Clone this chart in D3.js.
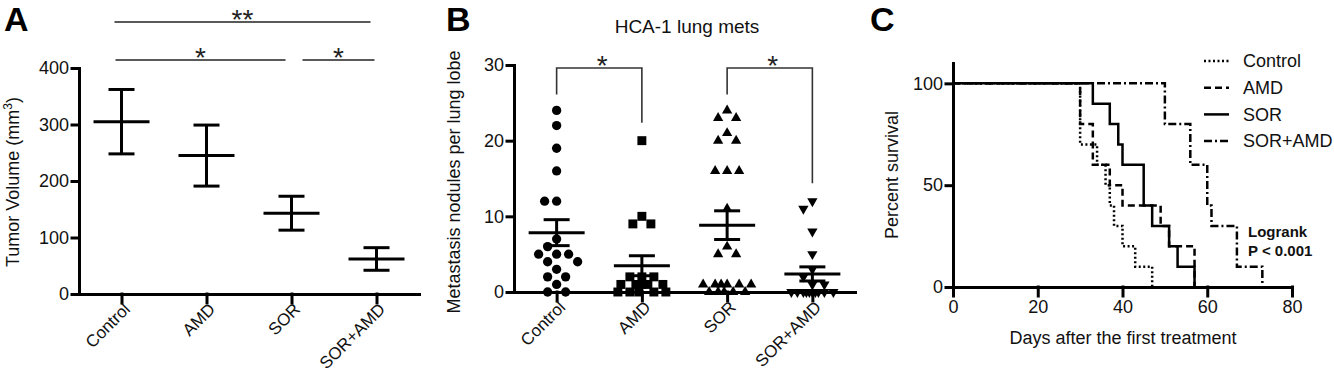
<!DOCTYPE html>
<html>
<head>
<meta charset="utf-8">
<script src="https://cdn.jsdelivr.net/npm/d3@7"></script>
<style>
  body { margin: 0; background: #fff; }
  svg { display: block; }
</style>
</head>
<body>
<script>
// ---- data ----
const groups = ["Control", "AMD", "SOR", "SOR+AMD"];

// A: tumor volume, mean and SEM (mm3)
const tumorMean = [305, 245, 143, 62];
const tumorSem = [57, 54, 30, 20];
const tumorTicks = [0, 100, 200, 300, 400];

// B: lung metastasis nodules per lobe, one value per mouse
const nodulesControl = [24, 22, 19, 16, 12, 12, 7, 6, 5, 5, 5, 4, 4, 3, 2, 2, 1, 0, 0];
const nodulesAMD = [20, 10, 9, 9, 2, 2, 2, 1, 1, 1, 1, 1, 0, 0, 0, 0, 0];
const nodulesSOR = [24, 23, 23, 21, 20, 20, 16, 16, 16, 11, 6, 5, 5, 1, 1, 1, 1, 1, 1, 0, 0, 0, 0, 0];
const nodulesSORAMD = [12, 11, 8, 5, 3, 2, 1, 1, 0, 0, 0, 0, 0, 0, 0, 0, 0, 0];
const noduleTicks = [0, 10, 20, 30];

// C: Kaplan-Meier steps (day, percent surviving)
const survControlDays = [0, 30, 34, 36, 37, 38, 40, 43, 47];
const survControlPct = [100, 70, 60, 50, 40, 30, 20, 10, 0];
const survAMDDays = [0, 30, 33, 37, 40, 49, 51, 57];
const survAMDPct = [100, 80, 60, 50, 40, 30, 20, 0];
const survSORDays = [0, 33, 37, 39, 40, 45, 47, 51, 53, 57];
const survSORPct = [100, 90, 80, 70, 60, 40, 30, 20, 10, 0];
const survSORAMDDays = [0, 50, 56, 60, 61, 67, 73];
const survSORAMDPct = [100, 80, 60, 40, 30, 10, 0];
const dayTicks = [0, 20, 40, 60, 80];
const survTicks = [0, 50, 100];

// ---- drawing ----
const W = 1334, H = 373;
const font = "'Liberation Sans', Arial, Helvetica, sans-serif";

const svg = d3.select("body").append("svg")
    .attr("width", W)
    .attr("height", H)
    .style("font-family", font);

function styleAxis(g, fontSize) {
    g.attr("font-family", font).attr("font-size", fontSize);
    g.selectAll("path.domain, .tick line")
        .attr("stroke", "#000")
        .style("stroke-width", "3px")
        .attr("stroke-linecap", "square");
    g.selectAll(".tick text").attr("fill", "#111");
}

function rotateLabels(g) {
    g.selectAll(".tick text")
        .attr("font-size", 17)
        .attr("text-anchor", "end")
        .attr("x", 0).attr("y", 0).attr("dy", "0.35em")
        .attr("transform", "translate(5,12) rotate(-45)");
}

function panelLetter(x, y, t) {
    svg.append("text")
        .attr("x", x).attr("y", y)
        .attr("font-size", 34)
        .attr("font-weight", "bold")
        .attr("fill", "#000")
        .text(t);
}

function yLabel(x, y, t) {
    return svg.append("text")
        .attr("transform", `translate(${x},${y}) rotate(-90)`)
        .attr("text-anchor", "middle")
        .attr("font-size", 18)
        .attr("fill", "#111")
        .text(t);
}

// ===== Panel A =====
const xA = d3.scalePoint().domain(groups).range([79, 419]).padding(0.5);
const yA = d3.scaleLinear().domain([0, 400]).range([294, 68]);

panelLetter(4, 31, "A");

const semA = svg.append("g").attr("stroke", "#000").attr("stroke-width", 3);
groups.forEach((g, i) => {
    const cx = xA(g);
    const m = tumorMean[i], s = tumorSem[i];
    semA.append("line").attr("x1", cx - 28).attr("x2", cx + 28).attr("y1", yA(m)).attr("y2", yA(m));
    semA.append("line").attr("x1", cx).attr("x2", cx).attr("y1", yA(m - s)).attr("y2", yA(m + s));
    semA.append("line").attr("x1", cx - 13).attr("x2", cx + 13).attr("y1", yA(m + s)).attr("y2", yA(m + s));
    semA.append("line").attr("x1", cx - 13).attr("x2", cx + 13).attr("y1", yA(m - s)).attr("y2", yA(m - s));
});

svg.append("g").attr("transform", "translate(79,0)")
    .call(d3.axisLeft(yA).tickValues(tumorTicks).tickSize(7).tickSizeOuter(0).tickPadding(3))
    .call(g => styleAxis(g, 18));

svg.append("g").attr("transform", "translate(0,294)")
    .call(d3.axisBottom(xA).tickSize(9).tickSizeOuter(0))
    .call(g => styleAxis(g, 18))
    .call(rotateLabels);

const yl = yLabel(19, 182, "Tumor Volume (mm");
yl.append("tspan").attr("baseline-shift", "super").attr("font-size", 12).text("3");
yl.append("tspan").text(")");

// significance lines for A
const sigA = [
    { a: "Control", b: "SOR+AMD", y: 22, dx1: -7, dx2: -6, label: "**" },
    { a: "Control", b: "SOR", y: 60, dx1: -6, dx2: -6, label: "*" },
    { a: "SOR", b: "SOR+AMD", y: 60, dx1: 11, dx2: -2, label: "*" }
];
sigA.forEach(s => {
    const x1 = xA(s.a) + s.dx1, x2 = xA(s.b) + s.dx2;
    svg.append("line")
        .attr("x1", x1).attr("x2", x2).attr("y1", s.y).attr("y2", s.y)
        .attr("stroke", "#222").attr("stroke-width", 1.4);
    svg.append("text")
        .attr("x", (x1 + x2) / 2).attr("y", s.y + 7)
        .attr("text-anchor", "middle")
        .attr("font-size", 28).attr("fill", "#222")
        .text(s.label);
});

// ===== Panel B =====
const xB = d3.scalePoint().domain(groups).range([514, 855]).padding(0.5);
const yB = d3.scaleLinear().domain([0, 30]).range([292, 65]);
const nodules = [nodulesControl, nodulesAMD, nodulesSOR, nodulesSORAMD];
const shapes = [d3.symbolCircle, d3.symbolSquare, d3.symbolTriangle, d3.symbolTriangle];
const shapeSize = [68, 80, 46, 46];

panelLetter(446, 31, "B");

svg.append("text")
    .attr("x", 687).attr("y", 33)
    .attr("text-anchor", "middle")
    .attr("font-size", 19).attr("fill", "#111")
    .text("HCA-1 lung mets");

// simple beeswarm: nearest free offset, else least-overlapping one
function swarm(values, y, minDist, step, maxHalf) {
    const placed = [];
    values.forEach(v => {
        const py = y(v);
        let best = 0, bestD = -1, found = false;
        for (let k = 0; k * step <= maxHalf && !found; k++) {
            const cands = k === 0 ? [0] : [-k * step, k * step];
            for (const dx of cands) {
                const d = placed.length ? d3.min(placed, p => Math.hypot(p.dx - dx, p.y - py)) : Infinity;
                if (d >= minDist) { best = dx; found = true; break; }
                if (d > bestD) { bestD = d; best = dx; }
            }
        }
        placed.push({ v: v, y: py, dx: best });
    });
    return placed;
}

const ptsB = svg.append("g");
nodules.forEach((vals, i) => {
    const cx = xB(groups[i]);
    const pts = swarm(vals, yB, 11.5, 3, 26);
    const sym = d3.symbol().type(shapes[i]).size(shapeSize[i]);
    ptsB.selectAll(null)
        .data(pts)
        .enter()
        .append("path")
            .attr("d", sym)
            .attr("fill", "#000")
            .attr("transform", d => `translate(${cx + d.dx},${d.y})` + (i === 3 ? " rotate(180)" : ""));

    // mean +/- SEM
    const m = d3.mean(vals), s = d3.deviation(vals) / Math.sqrt(vals.length);
    const g = ptsB.append("g").attr("stroke", "#000").attr("stroke-width", 3);
    g.append("line").attr("x1", cx - 28).attr("x2", cx + 28).attr("y1", yB(m)).attr("y2", yB(m));
    g.append("line").attr("x1", cx).attr("x2", cx).attr("y1", yB(m - s)).attr("y2", yB(m + s));
    g.append("line").attr("x1", cx - 13).attr("x2", cx + 13).attr("y1", yB(m + s)).attr("y2", yB(m + s));
    g.append("line").attr("x1", cx - 13).attr("x2", cx + 13).attr("y1", yB(m - s)).attr("y2", yB(m - s));
});

svg.append("g").attr("transform", "translate(514,0)")
    .call(d3.axisLeft(yB).tickValues(noduleTicks).tickSize(7).tickSizeOuter(0).tickPadding(3))
    .call(g => styleAxis(g, 18));

svg.append("g").attr("transform", "translate(0,292)")
    .call(d3.axisBottom(xB).tickSize(9).tickSizeOuter(0))
    .call(g => styleAxis(g, 18))
    .call(rotateLabels);

yLabel(460, 182, "Metastasis nodules per lung lobe");

// brackets for B
const sigB = [
    { a: 0, b: 1, label: "*" },
    { a: 2, b: 3, label: "*" }
];
sigB.forEach(s => {
    const x1 = xB(groups[s.a]), x2 = xB(groups[s.b]);
    const top = 68;
    const y1 = yB(d3.max(nodules[s.a])) - 16;
    const y2 = yB(d3.max(nodules[s.b])) - 18;
    svg.append("path")
        .attr("d", `M${x1},${y1}V${top}H${x2}V${y2}`)
        .attr("fill", "none")
        .attr("stroke", "#333").attr("stroke-width", 1.6);
    svg.append("text")
        .attr("x", (x1 + x2) / 2 + 3).attr("y", top + 7)
        .attr("text-anchor", "middle")
        .attr("font-size", 28).attr("fill", "#222")
        .text(s.label);
});

// ===== Panel C =====
const xC = d3.scaleLinear().domain([0, 80]).range([953, 1292]);
const yC = d3.scaleLinear().domain([0, 110]).range([287, 63]);

panelLetter(870, 31, "C");

const curves = [
    { name: "Control", days: survControlDays, pct: survControlPct, dash: "2,2.5" },
    { name: "AMD", days: survAMDDays, pct: survAMDPct, dash: "7,4" },
    { name: "SOR", days: survSORDays, pct: survSORPct, dash: null },
    { name: "SOR+AMD", days: survSORAMDDays, pct: survSORAMDPct, dash: "8,3,2,3" }
];

const stepLine = d3.line()
    .x(d => xC(d[0]))
    .y(d => yC(d[1]))
    .curve(d3.curveStepAfter);

curves.forEach(c => {
    const pts = c.days.map((d, i) => [d, c.pct[i]]);
    svg.append("path")
        .attr("d", stepLine(pts))
        .attr("fill", "none")
        .attr("stroke", "#000")
        .attr("stroke-width", 2.5)
        .attr("stroke-dasharray", c.dash);
});

svg.append("g").attr("transform", "translate(953,0)")
    .call(d3.axisLeft(yC).tickValues(survTicks).tickSize(7).tickSizeOuter(0).tickPadding(3))
    .call(g => styleAxis(g, 18));

svg.append("g").attr("transform", "translate(0,287)")
    .call(d3.axisBottom(xC).tickValues(dayTicks).tickSize(9).tickSizeOuter(0).tickPadding(4))
    .call(g => styleAxis(g, 18));

yLabel(898, 175, "Percent survival");

svg.append("text")
    .attr("x", 1123).attr("y", 344)
    .attr("text-anchor", "middle")
    .attr("font-size", 18).attr("fill", "#111")
    .text("Days after the first treatment");

// legend
const legend = svg.append("g").attr("transform", "translate(1204,61)");
curves.forEach((c, i) => {
    const row = legend.append("g").attr("transform", `translate(0,${i * 26.7})`);
    row.append("line")
        .attr("x1", 0).attr("x2", 25)
        .attr("stroke", "#000").attr("stroke-width", 2.5)
        .attr("stroke-dasharray", c.dash);
    row.append("text")
        .attr("x", 39).attr("dy", "0.35em")
        .attr("font-size", 18).attr("fill", "#111")
        .text(c.name);
});

svg.append("text")
    .attr("x", 1248).attr("y", 237)
    .attr("font-size", 15).attr("font-weight", "bold").attr("fill", "#111")
    .text("Logrank");
svg.append("text")
    .attr("x", 1248).attr("y", 256)
    .attr("font-size", 15).attr("font-weight", "bold").attr("fill", "#111")
    .text("P < 0.001");
</script>
</body>
</html>
